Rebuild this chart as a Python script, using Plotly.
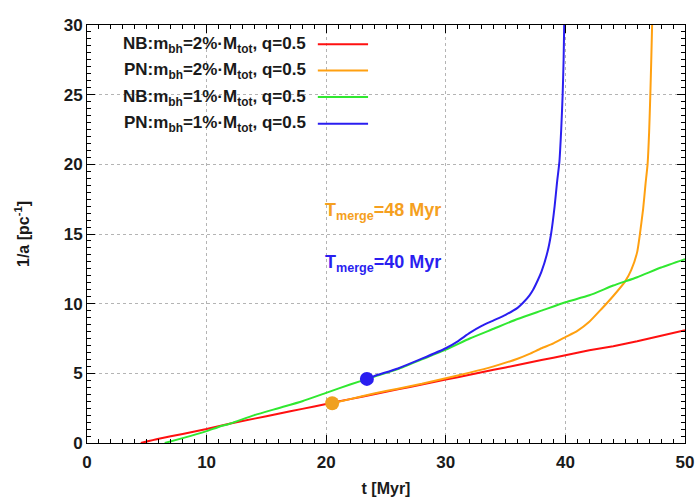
import plotly.graph_objects as go

# Binary hardening 1/a(t) for the four runs
t_nb2 = [4.5, 6, 8, 10, 12, 14, 16, 18, 20, 22, 24, 26, 28, 30, 32, 34, 36, 38, 40, 42, 44, 46, 48, 50]
a_nb2 = [0.0, 0.3, 0.65, 1.0, 1.4, 1.75, 2.1, 2.45, 2.8, 3.15, 3.5, 3.85, 4.2, 4.55, 4.9, 5.25,
         5.6, 5.95, 6.3, 6.65, 6.95, 7.3, 7.7, 8.1]

t_pn2 = [20.5, 22, 24, 26, 28, 30, 32, 34, 36, 37, 38, 39, 40, 41, 42, 43, 44, 45, 45.5, 46,
         46.2, 46.5, 46.7, 46.87, 47.0, 47.1, 47.18, 47.25]
a_pn2 = [2.85, 3.15, 3.55, 3.9, 4.25, 4.65, 5.05, 5.5, 6.05, 6.4, 6.8, 7.15, 7.6, 8.05, 8.7,
         9.6, 10.55, 11.6, 12.4, 13.7, 14.8, 16.8, 18.6, 20.0, 22.3, 25.0, 27.5, 30.0]

t_nb1 = [6.5, 8, 10, 11, 12, 14, 16, 18, 20, 22, 24, 26, 28, 30, 32, 34, 36, 38, 40, 42, 44, 46, 48, 50]
a_nb1 = [0.0, 0.35, 0.85, 1.15, 1.4, 2.0, 2.5, 3.0, 3.6, 4.2, 4.75, 5.3, 6.0, 6.7, 7.5, 8.2,
         8.9, 9.5, 10.1, 10.6, 11.3, 11.9, 12.6, 13.2]

t_pn1 = [23.4, 24, 26, 28, 30, 31, 32, 33, 34, 35, 36, 36.5, 37, 37.3, 37.7, 38, 38.5, 38.8,
         39.1, 39.3, 39.5, 39.65, 39.77, 39.85, 39.9]
a_pn1 = [4.6, 4.8, 5.35, 6.05, 6.8, 7.3, 7.9, 8.4, 8.8, 9.2, 9.7, 10.1, 10.6, 11.0, 11.7, 12.3,
         13.7, 15.0, 17.0, 18.7, 20.2, 22.5, 25.0, 27.5, 30.0]

labels = [
    "NB:m<sub>bh</sub>=2%·M<sub>tot</sub>, q=0.5",
    "PN:m<sub>bh</sub>=2%·M<sub>tot</sub>, q=0.5",
    "NB:m<sub>bh</sub>=1%·M<sub>tot</sub>, q=0.5",
    "PN:m<sub>bh</sub>=1%·M<sub>tot</sub>, q=0.5",
]
colors = ["#ff1010", "#ffa010", "#30e830", "#2a1ef0"]

# Start of the post-Newtonian runs
start_t = [20.5, 23.4]
start_a = [2.85, 4.6]
start_colors = ["#f0a020", "#2a1ef0"]

merge_text = ["T<sub>merge</sub>=48 Myr", "T<sub>merge</sub>=40 Myr"]
merge_pos = [(19.7, 16.6), (19.7, 12.9)]
merge_colors = ["#f5a020", "#2a1ef0"]

FONT = "Liberation Sans, Arial, sans-serif"
INK = "#1a1a1a"

fig = go.Figure()
series = [(t_nb2, a_nb2), (t_pn2, a_pn2), (t_nb1, a_nb1), (t_pn1, a_pn1)]
for (t, a), lab, c in zip(series, labels, colors):
    fig.add_trace(go.Scatter(x=t, y=a, mode="lines", name=lab,
                             line=dict(color=c, width=2, shape="spline", smoothing=0.5),
                             showlegend=False))

fig.add_trace(go.Scatter(x=start_t, y=start_a, mode="markers",
                         marker=dict(color=start_colors, size=14, line=dict(width=0)),
                         showlegend=False))

# Key drawn gnuplot-style: right-aligned text followed by a line sample
shapes = [dict(type="rect", xref="paper", yref="paper", x0=0.003, x1=0.488, y0=0.735, y1=0.997,
               fillcolor="white", line=dict(width=0), layer="below")]
annotations = []
row_y = [0.952, 0.889, 0.826, 0.762]
for lab, c, yy in zip(labels, colors, row_y):
    annotations.append(dict(xref="paper", yref="paper", x=0.369, y=yy, text="<b>" + lab + "</b>",
                            showarrow=False, xanchor="right", yanchor="middle",
                            font=dict(family=FONT, size=17, color=INK)))
    shapes.append(dict(type="line", xref="paper", yref="paper", x0=0.386, x1=0.47, y0=yy + 0.002,
                       y1=yy + 0.002, line=dict(color=c, width=2)))

for txt, (px, py), c in zip(merge_text, merge_pos, merge_colors):
    annotations.append(dict(x=px, y=py, text="<b>" + txt + "</b>", showarrow=False,
                            xanchor="left", yanchor="middle",
                            font=dict(family=FONT, size=18, color=c)))

axis_common = dict(
    showline=True, linecolor="black", linewidth=1, mirror="allticks",
    ticks="inside", ticklen=8, tickcolor="black", tickwidth=1,
    showgrid=True, gridcolor="#b4b4b4", griddash="dot", gridwidth=1,
    zeroline=False, automargin=False,
    tickfont=dict(family=FONT, size=17, color=INK, weight="bold"),
)

fig.update_xaxes(range=[0, 50], dtick=10, tick0=0, ticklabelstandoff=4,
                 minor=dict(dtick=1, ticks="inside", ticklen=4, tickcolor="black", showgrid=False),
                 title=dict(text="<b>t [Myr]</b>", font=dict(family=FONT, size=16, color=INK),
                            standoff=12),
                 **axis_common)
fig.update_yaxes(range=[0, 30], dtick=5, tick0=0,
                 minor=dict(dtick=0.5, ticks="inside", ticklen=4, tickcolor="black", showgrid=False),
                 title=dict(text="<b>1/a [pc<sup>-1</sup>]</b>",
                            font=dict(family=FONT, size=16, color=INK), standoff=30),
                 **axis_common)

fig.update_layout(
    width=697, height=497,
    margin=dict(l=87, r=12, t=25, b=54),
    paper_bgcolor="white", plot_bgcolor="white",
    shapes=shapes, annotations=annotations,
    showlegend=False,
)

fig.write_html("out.html")
